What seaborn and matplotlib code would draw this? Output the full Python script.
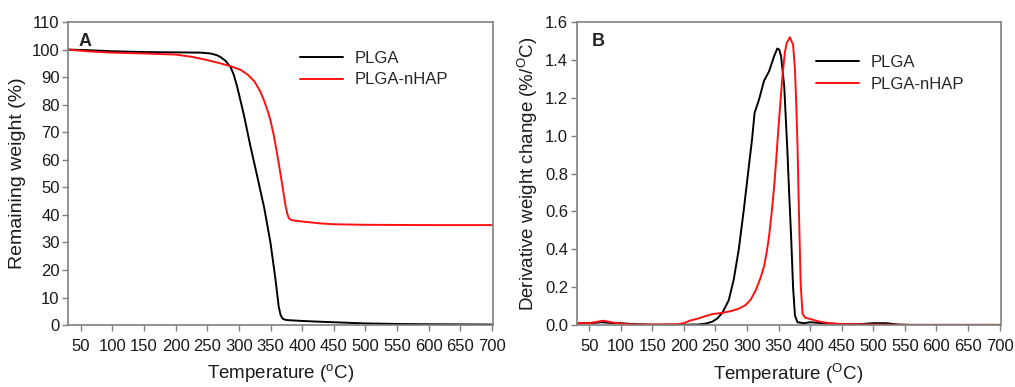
import numpy as np
import pandas as pd
import matplotlib
matplotlib.use("Agg")
import matplotlib.pyplot as plt
import seaborn as sns

# TGA curves (panel A): temperature, remaining weight (%)
tga_plga_t = [30, 60, 100, 150, 200, 240, 255, 265, 271, 279, 287, 292, 297, 302, 308, 318,
              329, 340, 350, 358, 363, 366, 369, 372, 377, 400, 430, 500, 550, 600, 700]
tga_plga_w = [100, 99.8, 99.4, 99.1, 99.0, 98.9, 98.6, 98.0, 97.3, 95.9, 93.6, 90.8, 86.8, 82.0,
              76.2, 65.2, 54.0, 42.6, 29.8, 16.3, 6.6, 3.6, 2.4, 2.0, 1.8, 1.5, 1.2, 0.6, 0.4, 0.3, 0.2]

tga_nhap_t = [30, 60, 100, 150, 200, 225, 250, 271, 288, 303, 314, 324, 333, 340, 346, 350,
              355, 359, 363, 369, 374, 377, 379, 382, 385, 400, 429, 450, 500, 600, 700]
tga_nhap_w = [100, 99.4, 98.9, 98.6, 98.2, 97.4, 96.2, 95.0, 93.9, 92.6, 90.9, 88.6, 85.2, 81.4,
              77.4, 74.2, 69.0, 64.0, 58.7, 50.2, 42.9, 40.0, 38.8, 38.3, 38.0, 37.6, 36.9, 36.6, 36.4, 36.3, 36.3]

# DTG curves (panel B): temperature, derivative weight change (%/oC)
dtg_plga_t = [30, 50, 70, 90, 100, 120, 150, 200, 223, 235, 245, 253, 261, 271, 279, 287, 295,
              303, 308, 312, 316, 319, 327, 335, 343, 348, 351, 354, 359, 364, 367, 370, 373,
              376, 380, 390, 400, 420, 450, 480, 500, 520, 540, 560, 700]
dtg_plga_v = [0.01, 0.01, 0.015, 0.01, 0.01, 0.005, 0.002, 0.002, 0.003, 0.008, 0.018, 0.035, 0.065,
              0.13, 0.24, 0.40, 0.61, 0.84, 0.98, 1.12, 1.16, 1.19, 1.29, 1.34, 1.42, 1.46, 1.455,
              1.42, 1.26, 0.92, 0.68, 0.46, 0.2, 0.05, 0.015, 0.01, 0.015, 0.01, 0.005, 0.005,
              0.01, 0.01, 0.003, 0.001, 0.001]

dtg_nhap_t = [30, 50, 72, 90, 100, 120, 150, 190, 200, 210, 223, 235, 245, 260, 276, 288, 298,
              306, 314, 321, 327, 331, 335, 339, 343, 346, 350, 356, 360, 363, 368, 373, 376,
              378, 380, 382, 385, 388, 392, 399, 415, 430, 450, 500, 550, 700]
dtg_nhap_v = [0.01, 0.01, 0.023, 0.012, 0.008, 0.003, 0.003, 0.004, 0.01, 0.024, 0.035, 0.048,
              0.058, 0.064, 0.075, 0.088, 0.106, 0.135, 0.185, 0.245, 0.31, 0.38, 0.47, 0.59, 0.73,
              0.86, 1.05, 1.31, 1.44, 1.49, 1.52, 1.48, 1.35, 1.17, 0.95, 0.64, 0.22, 0.06,
              0.04, 0.033, 0.018, 0.01, 0.005, 0.003, 0.001, 0.001]

series_names = ["PLGA", "PLGA-nHAP"]
palette = {"PLGA": "black", "PLGA-nHAP": "#ff1010"}

tga = pd.concat([
    pd.DataFrame({"T": tga_plga_t, "y": tga_plga_w, "sample": "PLGA"}),
    pd.DataFrame({"T": tga_nhap_t, "y": tga_nhap_w, "sample": "PLGA-nHAP"}),
])
dtg = pd.concat([
    pd.DataFrame({"T": dtg_plga_t, "y": dtg_plga_v, "sample": "PLGA"}),
    pd.DataFrame({"T": dtg_nhap_t, "y": dtg_nhap_v, "sample": "PLGA-nHAP"}),
])

sns.set_style("white")
plt.rcParams["font.family"] = ["Liberation Sans", "DejaVu Sans"]
plt.rcParams["mathtext.fontset"] = "custom"
plt.rcParams["mathtext.rm"] = "Liberation Sans"
plt.rcParams["mathtext.it"] = "Liberation Sans"

fig = plt.figure(figsize=(10.15, 3.87), dpi=100)
ax1 = fig.add_axes([0.067, 0.160, 0.419, 0.783])
ax2 = fig.add_axes([0.568, 0.160, 0.418, 0.783])

sns.lineplot(data=tga, x="T", y="y", hue="sample", hue_order=series_names,
             palette=palette, linewidth=1.4, ax=ax1)
sns.lineplot(data=dtg, x="T", y="y", hue="sample", hue_order=series_names,
             palette=palette, linewidth=1.4, ax=ax2)

ticks_x = np.arange(50, 701, 50)
for ax in (ax1, ax2):
    ax.set_xlim(30, 702)
    ax.set_xticks(ticks_x)
    for sp in ax.spines.values():
        sp.set_color("#7f7f7f")
        sp.set_linewidth(1.2)
    ax.tick_params(axis="both", which="both", direction="out", length=4, width=1,
                   color="#7f7f7f", labelsize=12, labelcolor="#1a1a1a",
                   bottom=True, left=True)
    ax.tick_params(axis="x", pad=6)
    ax.tick_params(axis="y", pad=2)
    ax.legend(frameon=False, fontsize=12, handlelength=2.6, handletextpad=0.7,
              labelspacing=0.4)

ax1.legend_.set_bbox_to_anchor((0.93, 0.955))
ax1.legend_._loc = 1
ax2.legend_.set_bbox_to_anchor((0.95, 0.94))
ax2.legend_._loc = 1

ax1.set_ylim(0, 110)
ax1.set_yticks(np.arange(0, 111, 10))
ax1.set_xlabel(r"Temperature ($^{\mathrm{o}}$C)", fontsize=13.5, color="#1a1a1a", labelpad=6)
ax1.set_ylabel("Remaining weight (%)", fontsize=14, color="#1a1a1a", labelpad=4)
ax1.text(0.025, 0.965, "A", transform=ax1.transAxes, fontsize=13, fontweight="bold",
         va="top", ha="left")

ax2.set_ylim(0, 1.6)
ax2.set_yticks(np.arange(0, 1.61, 0.2))
ax2.set_yticklabels([f"{v:.1f}" for v in np.arange(0, 1.61, 0.2)])
ax2.set_xlabel(r"Temperature ($^{\mathrm{O}}$C)", fontsize=13.5, color="#1a1a1a", labelpad=6)
ax2.set_ylabel(r"Derivative weight change (%/$^{\mathrm{O}}$C)", fontsize=13.5,
               color="#1a1a1a", labelpad=4)
ax2.text(0.035, 0.965, "B", transform=ax2.transAxes, fontsize=13, fontweight="bold",
         va="top", ha="left")

fig.savefig("out.png", dpi=100)
